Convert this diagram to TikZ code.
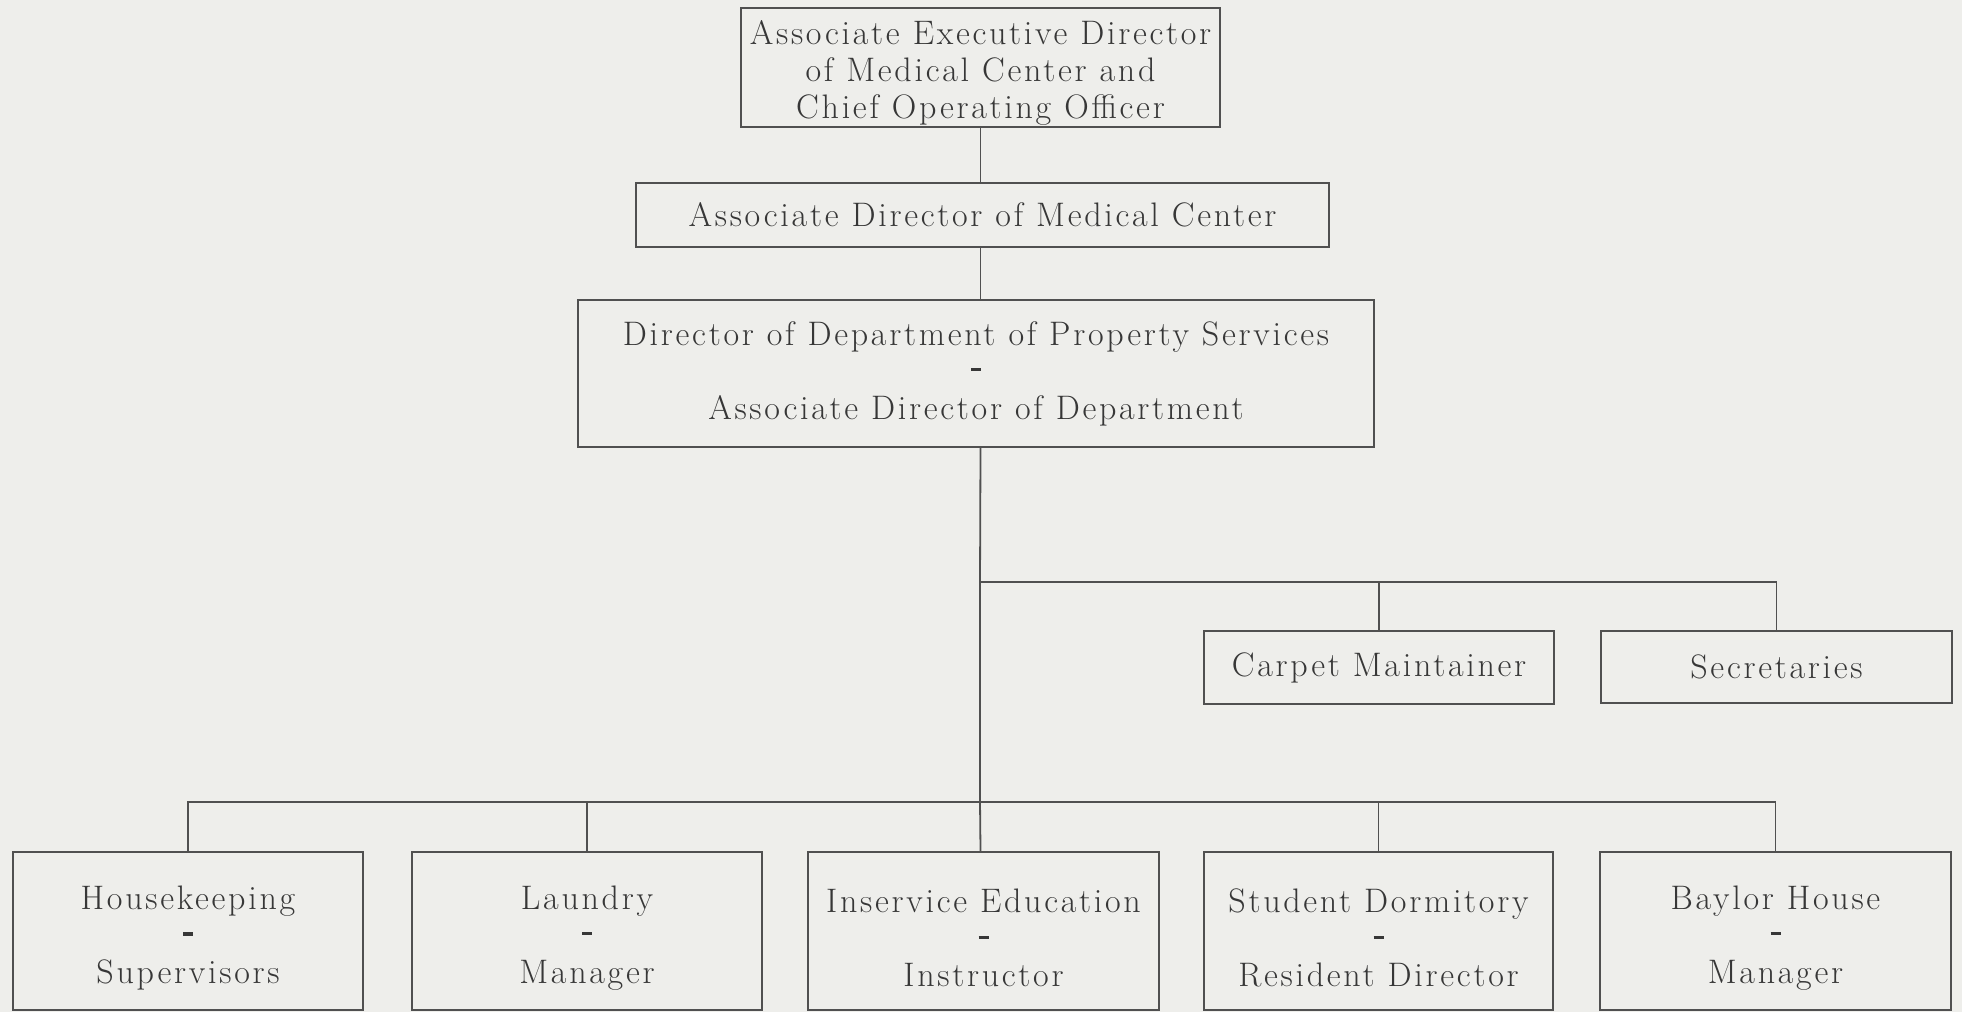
\documentclass[tikz,border=0pt]{standalone}
\usepackage{fontspec}
\setmainfont{Latin Modern Roman}[LetterSpace=8]
\definecolor{paper}{RGB}{238,238,235}
\definecolor{ink}{RGB}{55,55,55}
\definecolor{rule}{RGB}{80,80,80}
\newcommand{\dsh}{\rule[0.32em]{5pt}{1.6pt}}
\newcommand{\lowr}[2]{\raisebox{-#1}[\height][\depth]{\parbox{170pt}{\centering #2}}}
\begin{document}
\begin{tikzpicture}[x=0.5pt,y=-0.5pt,
  box/.style={draw=rule,line width=1pt,inner sep=0pt,align=center,text=ink,
    font=\fontsize{17}{18.5}\selectfont},
  lowbox/.style={box,minimum width=175pt,minimum height=79pt},
  conn/.style={draw=rule,line width=0.9pt}]
\fill[paper] (0,0) rectangle (1962,1012);
\useasboundingbox (0,0) rectangle (1962,1012);
% top levels
\node[box,minimum width=239.5pt,minimum height=59.5pt] (top) at (980.5,67.5)
  {\raisebox{-2.5pt}[\height][\depth]{\parbox{235pt}{\centering Associate Executive Director\\of Medical Center and\\Chief Operating Officer}}};
\node[box,minimum width=346.5pt,minimum height=32pt] (assoc) at (982.5,215)
  {Associate Director of Medical Center};
\node[box,minimum width=398pt,minimum height=73.5pt] (dir) at (976,373.5)
  {Director of Department of Property Services\\\dsh\\Associate Director of Department};
% staff
\node[box,minimum width=175pt,minimum height=36.5pt] (carpet) at (1379,667.5)
  {Carpet Maintainer};
\node[box,minimum width=175.5pt,minimum height=36pt] (secr) at (1776.5,667)
  {Secretaries};
% bottom row
\node[lowbox] (hk) at (188,931)
  {\lowr{3.5pt}{Housekeeping\\\dsh\\Supervisors}};
\node[lowbox] (laun) at (587,931)
  {\lowr{3.5pt}{Laundry\\\dsh\\Manager}};
\node[lowbox,minimum width=175.5pt] (inserv) at (983.5,931)
  {\lowr{3.5pt}{Inservice Education\\\dsh\\Instructor}};
\node[lowbox,minimum width=174.5pt] (stud) at (1378.5,931)
  {\lowr{3.5pt}{Student Dormitory\\\dsh\\Resident Director}};
\node[lowbox,minimum width=175.5pt] (bay) at (1775.5,931)
  {\lowr{3.5pt}{Baylor House\\\dsh\\Manager}};
% junctions
\coordinate (j1) at (980,582);
\coordinate (j2) at (980,802);
% connectors
\draw[conn] (top.south) -- (top.south |- assoc.north);
\draw[conn] (top.south |- assoc.south) -- (top.south |- dir.north);
\draw[conn] (top.south |- dir.south) -- (j1) -- (j2) -- (top.south |- inserv.north);
\draw[conn] (j1) -| (carpet.north);
\draw[conn] (j1) -| (secr.north);
\draw[conn] (j2) -| (hk.north);
\draw[conn] (j2) -| (laun.north);
\draw[conn] (j2) -| (stud.north);
\draw[conn] (j2) -| (bay.north);
\end{tikzpicture}
\end{document}
